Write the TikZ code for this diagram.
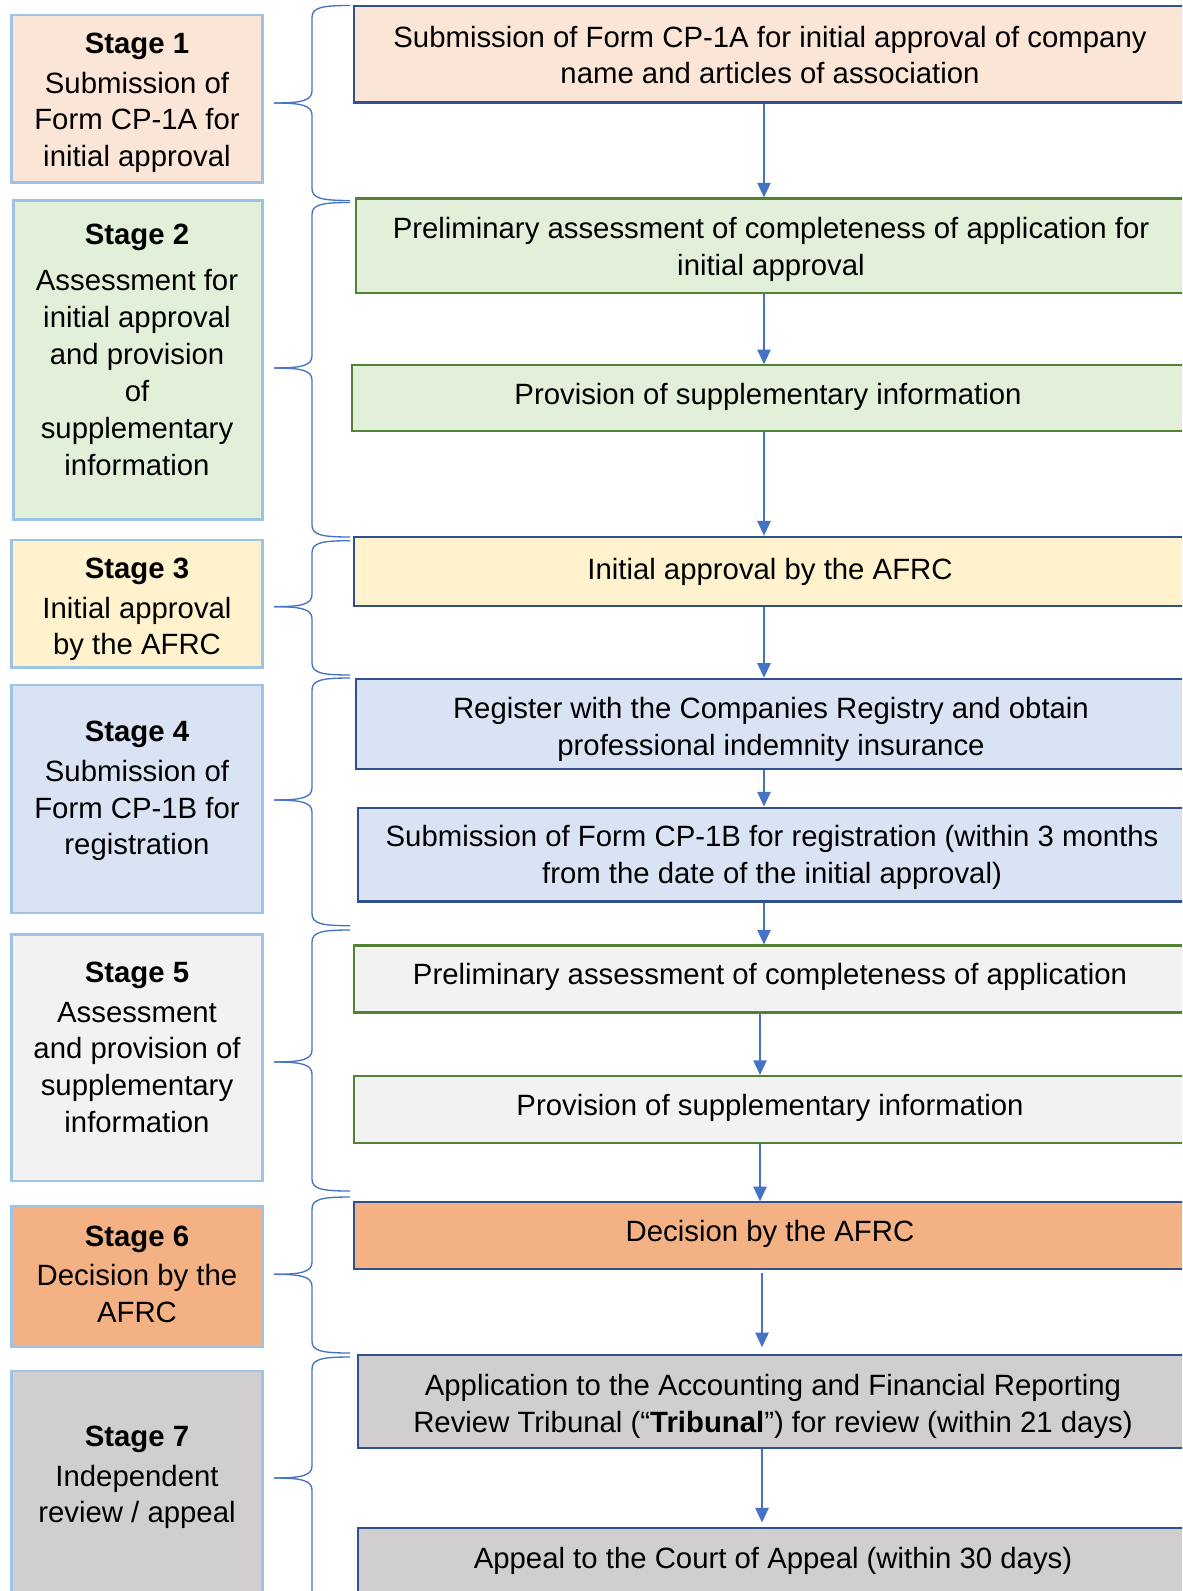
\documentclass[tikz,border=0pt]{standalone}
\usepackage{fontspec}
\setmainfont{Liberation Sans}
\usetikzlibrary{fit,arrows.meta}
\definecolor{c1}{HTML}{FBE5D6}
\definecolor{c2}{HTML}{E2F0D9}
\definecolor{c3}{HTML}{FFF2CC}
\definecolor{c4}{HTML}{DAE3F3}
\definecolor{c5}{HTML}{F2F2F2}
\definecolor{c6}{HTML}{F4B183}
\definecolor{c7}{HTML}{D0CECE}
\definecolor{lbord}{HTML}{9DC3E6}
\definecolor{bbord}{HTML}{2F528F}
\definecolor{gbord}{HTML}{548235}
\definecolor{acc}{HTML}{4472C4}
\tikzset{
  lbox/.style={draw=lbord, line width=1.8pt, inner sep=0pt},
  rbox/.style={line width=1.6pt, inner sep=0pt},
  bluebox/.style={rbox, draw=bbord},
  greenbox/.style={rbox, draw=gbord},
  txt/.style={align=center, font=\fontsize{22pt}{27.7pt}\selectfont, inner sep=0pt},
  arr/.style={draw=acc, line width=1.1pt, -{Triangle[length=11pt,width=10pt]}},
  brc/.style={draw=acc, line width=1pt},
}
\newcommand\stagebrace[3]{%
  \draw[brc] (350,#1) .. controls (322,#1) and (312,#1+2) .. (312,#1+12)
     -- (312,#2-12) .. controls (312,#2-2) and (300,#2) .. (274,#2);
  \draw[brc] (274,#2) .. controls (300,#2) and (312,#2+2) .. (312,#2+12)
     -- (312,#3-12) .. controls (312,#3-2) and (322,#3) .. (350,#3);
}
\begin{document}
\begin{tikzpicture}[x=0.75pt,y=-0.75pt]
\useasboundingbox (0,0) rectangle (1182,1591);
\clip (0,0) rectangle (1182,1591);
% left stage boxes
\node[lbox, fill=c1, fit={(11.5,15.2) (262.5,182.6)}] (s1) {};
\node[lbox, fill=c2, fit={(13.3,200.5) (262.5,519.5)}] (s2) {};
\node[lbox, fill=c3, fit={(11.5,539.8) (262.5,667.6)}] (s3) {};
\node[lbox, fill=c4, fit={(11.5,684.9) (262.5,913.1)}] (s4) {};
\node[lbox, fill=c5, fit={(11.5,934.4) (262.5,1181)}] (s5) {};
\node[lbox, fill=c6, fit={(11.5,1206.4) (262.5,1346.7)}] (s6) {};
\node[lbox, fill=c7, fit={(11.5,1371) (262.5,1640)}] (s7) {};
\node[txt] (s1t) at (137,103) {\textbf{Stage 1}\\[2pt] Submission of\\ Form CP-1A for\\ initial approval};
\node[txt] (s2t) at (137,350) {\textbf{Stage 2}\\[7pt] Assessment for\\ initial approval\\ and provision\\ of\\ supplementary\\ information};
\node[txt] (s3t) at (137,609.5) {\textbf{Stage 3}\\[2pt] Initial approval\\ by the AFRC};
\node[txt] (s4t) at (137,791) {\textbf{Stage 4}\\[2pt] Submission of\\ Form CP-1B for\\ registration};
\node[txt] (s5t) at (137,1047.5) {\textbf{Stage 5}\\[2pt] Assessment\\ and provision of\\ supplementary\\ information};
\node[txt] (s6t) at (137,1274.5) {\textbf{Stage 6}\\[2pt] Decision by the\\ AFRC};
\node[txt] (s7t) at (137,1477.5) {\textbf{Stage 7}\\[2pt] Independent\\ review / appeal};
% right step boxes
\node[bluebox, fill=c1, fit={(354,6.1) (1186,102.5)}] (r1) {};
\node[greenbox, fill=c2, fit={(356,198.5) (1186,293.2)}] (r2) {};
\node[greenbox, fill=c2, fit={(352,365.3) (1186,431.2)}] (r3) {};
\node[bluebox, fill=c3, fit={(354,536.7) (1186,605.7)}] (r4) {};
\node[bluebox, fill=c4, fit={(356,678.8) (1186,769)}] (r5) {};
\node[bluebox, fill=c4, fit={(358,807.6) (1186,901.5)}] (r6) {};
\node[greenbox, fill=c5, fit={(354,945.5) (1186,1012.5)}] (r7) {};
\node[greenbox, fill=c5, fit={(354,1076) (1186,1142.6)}] (r8) {};
\node[bluebox, fill=c6, fit={(354,1202.3) (1186,1269.3)}] (r9) {};
\node[bluebox, fill=c7, fit={(358,1355) (1186,1447.8)}] (r10) {};
\node[bluebox, fill=c7, fit={(358,1528.3) (1186,1640)}] (r11) {};
\node[txt] (r1t) at (770,55) {Submission of Form CP-1A for initial approval of company\\ name and articles of association};
\node[txt] (r2t) at (771,249) {Preliminary assessment of completeness of application for\\ initial approval};
\node[txt] (r3t) at (768,397) {Provision of supplementary information};
\node[txt] (r4t) at (770,572) {Initial approval by the AFRC};
\node[txt] (r5t) at (771,729) {Register with the Companies Registry and obtain\\ professional indemnity insurance};
\node[txt] (r6t) at (772,857.5) {Submission of Form CP-1B for registration (within 3 months\\ from the date of the initial approval)};
\node[txt] (r7t) at (770,977) {Preliminary assessment of completeness of application};
\node[txt] (r8t) at (770,1108) {Provision of supplementary information};
\node[txt] (r9t) at (770,1234) {Decision by the AFRC};
\node[txt] (r10t) at (773,1406) {Application to the Accounting and Financial Reporting\\ Review Tribunal (“\textbf{Tribunal}”) for review (within 21 days)};
\node[txt] (r11t) at (773,1561) {Appeal to the Court of Appeal (within 30 days)};
% arrows
\coordinate (ax) at (764,0);
\coordinate (bx) at (760,0);
\coordinate (cx) at (762,0);
\draw[arr] (r1.south -| ax) -- (r2.north -| ax);
\draw[arr] (r2.south -| ax) -- (r3.north -| ax);
\draw[arr] (r3.south -| ax) -- (r4.north -| ax);
\draw[arr] (r4.south -| ax) -- (r5.north -| ax);
\draw[arr] (r5.south -| ax) -- (r6.north -| ax);
\draw[arr] (r6.south -| ax) -- (r7.north -| ax);
\draw[arr] (r7.south -| bx) -- (r8.north -| bx);
\draw[arr] (r8.south -| bx) -- (r9.north -| bx);
\draw[arr, shorten <=2pt, shorten >=5pt] (r9.south -| cx) -- (r10.north -| cx);
\draw[arr, shorten >=3.5pt] (r10.south -| cx) -- (r11.north -| cx);
% braces
\stagebrace{5.5}{103}{200.5}
\stagebrace{202.5}{368}{537}
\stagebrace{540.7}{606.7}{675}
\stagebrace{678}{800}{925.7}
\stagebrace{930}{1062}{1191}
\stagebrace{1197}{1274.3}{1353}
\stagebrace{1357}{1478}{1700}
\end{tikzpicture}
\end{document}
